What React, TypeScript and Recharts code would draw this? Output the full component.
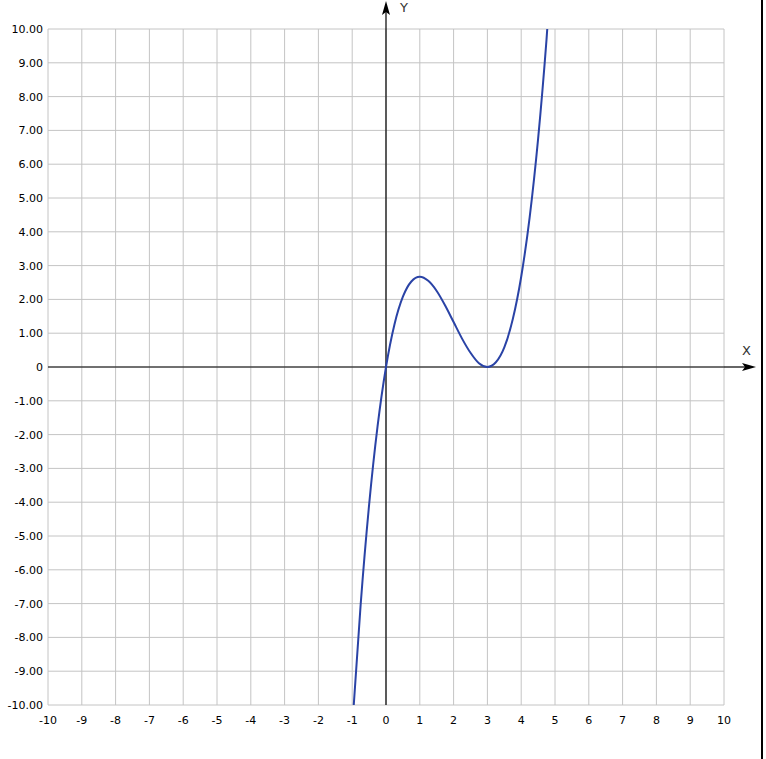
import { LineChart, Line, XAxis, YAxis, CartesianGrid, ReferenceLine } from 'recharts'

const xValues = [-1, -0.75, -0.5, -0.25, 0, 0.25, 0.5, 0.75, 1, 1.25, 1.5, 1.75, 2, 2.25, 2.5, 2.75, 3, 3.25, 3.5, 3.75, 4, 4.25, 4.5, 4.75, 5]
const yValues = [-10.67, -7.03, -4.08, -1.76, 0, 1.26, 2.08, 2.53, 2.67, 2.55, 2.25, 1.82, 1.33, 0.84, 0.42, 0.11, 0, 0.14, 0.58, 1.41, 2.67, 4.43, 6.75, 9.7, 13.33]
const xTicks = [-10, -9, -8, -7, -6, -5, -4, -3, -2, -1, 0, 1, 2, 3, 4, 5, 6, 7, 8, 9, 10]
const yTicks = [-10, -9, -8, -7, -6, -5, -4, -3, -2, -1, 0, 1, 2, 3, 4, 5, 6, 7, 8, 9, 10]

const data = xValues.map((x, i) => ({ x, y: yValues[i] }))

const font = '"DejaVu Sans", Verdana, sans-serif'
const tickStyle = { fill: '#000', fontSize: 11, fontFamily: font }

export default function App() {
  return (
    <div style={{ position: 'absolute', left: 0, top: 0, width: 766, height: 759, background: '#fff' }}>
      <LineChart width={766} height={759} data={data} margin={{ top: 29, right: 42, left: 0, bottom: 0 }}>
        <CartesianGrid stroke="#c4c4c4" strokeWidth={1} />
        <XAxis
          dataKey="x"
          type="number"
          domain={[-10, 10]}
          ticks={xTicks}
          interval={0}
          axisLine={false}
          tickLine={false}
          tickSize={6}
          tickMargin={5}
          height={54}
          tick={tickStyle}
        />
        <YAxis
          type="number"
          domain={[-10, 10]}
          ticks={yTicks}
          interval={0}
          allowDataOverflow
          axisLine={false}
          tickLine={false}
          tickSize={5}
          tickMargin={0}
          width={48}
          tick={tickStyle}
          tickFormatter={(v: number) => (v === 0 ? '0' : v.toFixed(2))}
        />
        <ReferenceLine x={0} stroke="#000" strokeWidth={1.2} />
        <ReferenceLine y={0} stroke="#000" strokeWidth={1.2} />
        <Line
          type="monotone"
          dataKey="y"
          stroke="#2a43a6"
          strokeWidth={2}
          dot={false}
          isAnimationActive={false}
        />
      </LineChart>
      {/* axis extensions, arrow heads and axis names */}
      <svg width={766} height={759} style={{ position: 'absolute', left: 0, top: 0, pointerEvents: 'none' }}>
        <line x1={386} y1={29} x2={386} y2={8} stroke="#000" strokeWidth={1.2} />
        <polygon points="386,1 382,15 386,12 390,15" fill="#000" />
        <text x={400} y={12} fontSize={13} fill="#333" fontFamily={font}>Y</text>
        <line x1={724} y1={367} x2={750} y2={367} stroke="#000" strokeWidth={1.2} />
        <polygon points="756,367 742,363 745,367 742,371" fill="#000" />
        <text x={742} y={355} fontSize={13} fill="#333" fontFamily={font}>X</text>
      </svg>
      <div style={{ position: 'absolute', left: 761, top: 0, width: 2, height: 759, background: '#000' }} />
    </div>
  )
}
